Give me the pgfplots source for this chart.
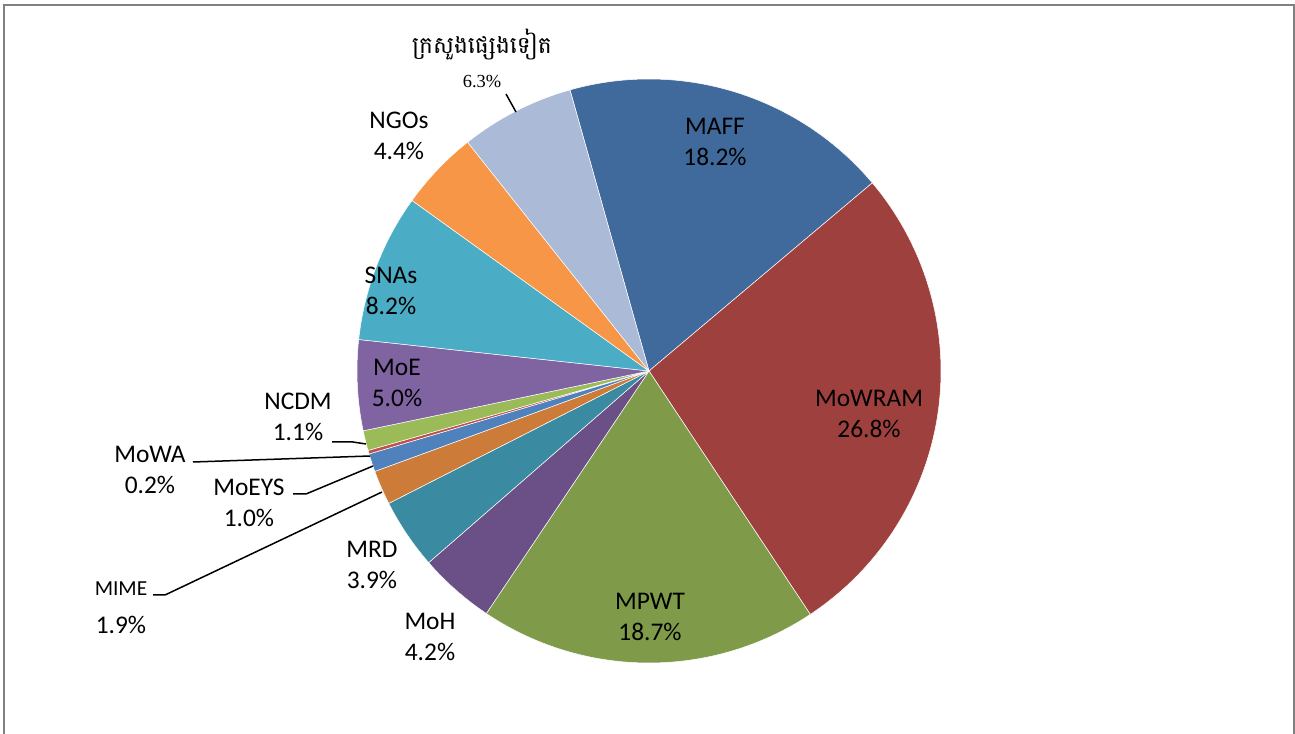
\documentclass[border=0pt]{standalone}
\usepackage{pgfplots}
\usepackage{pgfplotstable}
\pgfplotsset{compat=1.18}
\usepackage{fontspec}
\setmainfont{Carlito}
\newfontfamily\khmerfont[Script=Khmer]{Battambang}
\newfontfamily\timesfont{Liberation Serif}

\definecolor{cMAFF}{RGB}{65,106,156}
\definecolor{cMoWRAM}{RGB}{158,65,62}
\definecolor{cMPWT}{RGB}{127,155,73}
\definecolor{cMoH}{RGB}{106,80,134}
\definecolor{cMRD}{RGB}{58,139,161}
\definecolor{cMIME}{RGB}{204,123,56}
\definecolor{cMoEYS}{RGB}{79,129,189}
\definecolor{cMoWA}{RGB}{192,80,77}
\definecolor{cNCDM}{RGB}{155,187,89}
\definecolor{cMoE}{RGB}{128,100,162}
\definecolor{cSNAs}{RGB}{75,172,198}
\definecolor{cNGOs}{RGB}{247,150,70}
\definecolor{cOther}{RGB}{170,186,215}
\definecolor{framegray}{RGB}{128,128,128}

\tikzset{lbl/.style={font=\fontsize{25.5}{31.5}\selectfont, align=center, inner sep=0pt, text=black}}

\pgfplotstableread{
label pct color
MAFF 18.2 cMAFF
MoWRAM 26.8 cMoWRAM
MPWT 18.7 cMPWT
MoH 4.2 cMoH
MRD 3.9 cMRD
MIME 1.9 cMIME
MoEYS 1.0 cMoEYS
MoWA 0.2 cMoWA
NCDM 1.1 cNCDM
MoE 5.0 cMoE
SNAs 8.2 cSNAs
NGOs 4.4 cNGOs
Other 6.3 cOther
}\piedata

\begin{document}
\begin{tikzpicture}
\useasboundingbox (0,0) rectangle (1295bp,734bp);
\begin{axis}[
  at={(0,0)}, anchor=south west,
  x=1bp, y=1bp,
  xmin=0, xmax=1295, ymin=0, ymax=734,
  hide axis, clip=false,
]
% frame
\draw[framegray, line width=2bp] (axis cs:3.5,-10) -- (axis cs:3.5,729) -- (axis cs:1293.5,729) -- (axis cs:1293.5,-10);

% pie slices from table
\pgfplotstablegetrowsof{\piedata}
\pgfmathtruncatemacro{\nrows}{\pgfplotsretval-1}
\gdef\cumang{105.7}
\pgfplotsforeachungrouped \i in {0,...,\nrows}{%
  \pgfplotstablegetelem{\i}{pct}\of\piedata
  \let\thispct=\pgfplotsretval
  \pgfplotstablegetelem{\i}{color}\of\piedata
  \let\thiscol=\pgfplotsretval
  \pgfmathsetmacro{\endang}{\cumang-360*\thispct/99.9}%
  \edef\doslice{\noexpand\fill[\thiscol, draw=white, line width=0.5bp] (axis cs:649,363) -- ++(\cumang:292bp) arc[start angle=\cumang, end angle=\endang, radius=292bp] -- cycle;}%
  \doslice
  \global\let\cumang\endang
}

% labels inside / near slices
\node[lbl] at (axis cs:715,592) {MAFF\\18.2\%};
\node[lbl] at (axis cs:869,320) {MoWRAM\\26.8\%};
\node[lbl] at (axis cs:650,117) {MPWT\\18.7\%};
\node[lbl] at (axis cs:430,97) {MoH\\4.2\%};
\node[lbl] at (axis cs:372,169) {MRD\\3.9\%};
\node[lbl] at (axis cs:397,351) {MoE\\5.0\%};
\node[lbl] at (axis cs:391,443) {SNAs\\8.2\%};
\node[lbl] at (axis cs:399,598) {NGOs\\4.4\%};
\node[lbl] at (axis cs:298,317) {NCDM\\1.1\%};
\node[lbl] at (axis cs:150,264) {MoWA\\0.2\%};
\node[lbl] at (axis cs:249,231) {MoEYS\\1.0\%};
\node[lbl, font=\fontsize{21.5}{25}\selectfont] at (axis cs:121,145) {MIME};
\node[lbl] at (axis cs:121,109) {1.9\%};
\node[lbl, font=\fontsize{23.5}{28}\selectfont\khmerfont] at (axis cs:482,690) {ក្រសួងផ្សេងទៀត};
\node[lbl, font=\fontsize{18.5}{22}\selectfont\timesfont] at (axis cs:482,652) {6.3\%};

% leader lines
\draw[black, line width=1.5bp] (axis cs:506,640) -- (axis cs:516,622);
\draw[black, line width=1.5bp] (axis cs:332,292) -- (axis cs:353,292) -- (axis cs:366,290);
\draw[black, line width=1.5bp] (axis cs:193,272) -- (axis cs:370,278);
\draw[black, line width=1.5bp] (axis cs:293,240) -- (axis cs:306,240) -- (axis cs:373,268);
\draw[black, line width=1.5bp] (axis cs:153,139) -- (axis cs:165,139) -- (axis cs:382,242);
\end{axis}
\end{tikzpicture}
\end{document}
